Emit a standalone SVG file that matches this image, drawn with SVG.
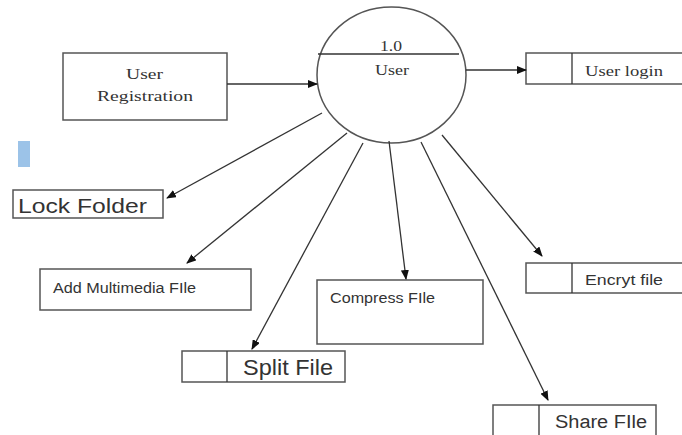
<svg xmlns="http://www.w3.org/2000/svg" width="682" height="435" viewBox="0 0 682 435">
<defs>
<marker id="ah" markerWidth="10" markerHeight="8" refX="9" refY="4" orient="auto" markerUnits="userSpaceOnUse">
<path d="M0,0 L10,4 L0,8 Z" fill="#111"/>
</marker>
<style>
.box{fill:#fff;stroke:#555;stroke-width:1.5}
.ln{stroke:#333;stroke-width:1.3;fill:none}
.conn{stroke:#333;stroke-width:1.3;fill:none;marker-end:url(#ah)}
.serif{font-family:"Liberation Serif","Times New Roman",serif;fill:#333}
.sans{font-family:"Liberation Sans",Arial,sans-serif;fill:#333}
</style>
</defs>
<rect width="682" height="435" fill="#fff"/>
<rect x="18" y="141" width="12" height="26" fill="#9cc3e8"/>
<g id="process-user">
<ellipse cx="391.5" cy="75" rx="74.5" ry="68" fill="#fff" stroke="#555" stroke-width="1.5"/>
<line class="ln" x1="318" y1="54" x2="459" y2="54"/>
<text class="serif" x="380" y="51" font-size="15" textLength="22" lengthAdjust="spacingAndGlyphs">1.0</text>
<text class="serif" x="375" y="75" font-size="15" textLength="34" lengthAdjust="spacingAndGlyphs">User</text>
</g>
<g id="user-registration">
<rect class="box" x="63" y="53" width="164" height="67"/>
<text class="serif" x="126" y="79" font-size="15" textLength="37" lengthAdjust="spacingAndGlyphs">User</text>
<text class="serif" x="97" y="101" font-size="15" textLength="96" lengthAdjust="spacingAndGlyphs">Registration</text>
</g>
<g id="user-login">
<rect class="box" x="526" y="53" width="160" height="31"/>
<line class="ln" x1="572" y1="53" x2="572" y2="84"/>
<text class="serif" x="585" y="76" font-size="15" textLength="78" lengthAdjust="spacingAndGlyphs">User login</text>
</g>
<g id="lock-folder">
<rect class="box" x="13" y="190" width="150" height="28"/>
<text class="sans" x="18" y="213" font-size="21" textLength="129" lengthAdjust="spacingAndGlyphs">Lock Folder</text>
</g>
<g id="add-multimedia">
<rect class="box" x="40" y="269" width="211" height="41"/>
<text class="sans" x="53" y="293" font-size="14" textLength="143" lengthAdjust="spacingAndGlyphs">Add Multimedia FIle</text>
</g>
<g id="compress-file">
<rect class="box" x="317" y="280" width="166" height="64"/>
<text class="sans" x="330" y="303" font-size="14" textLength="105" lengthAdjust="spacingAndGlyphs">Compress FIle</text>
</g>
<g id="encrypt-file">
<rect class="box" x="526" y="263" width="160" height="30"/>
<line class="ln" x1="572" y1="263" x2="572" y2="293"/>
<text class="sans" x="585" y="285" font-size="14" textLength="78" lengthAdjust="spacingAndGlyphs">Encryt file</text>
</g>
<g id="split-file">
<rect class="box" x="182" y="351" width="163" height="31"/>
<line class="ln" x1="227" y1="351" x2="227" y2="382"/>
<text class="sans" x="243" y="375" font-size="22" textLength="90" lengthAdjust="spacingAndGlyphs">Split File</text>
</g>
<g id="share-file">
<rect class="box" x="493" y="405" width="163" height="34"/>
<line class="ln" x1="539" y1="405" x2="539" y2="439"/>
<text class="sans" x="555" y="428" font-size="18" textLength="92" lengthAdjust="spacingAndGlyphs">Share FIle</text>
</g>
<g id="connectors">
<line class="conn" x1="227" y1="84" x2="317" y2="84"/>
<line class="conn" x1="466" y1="70" x2="526" y2="70"/>
<line class="conn" x1="322" y1="113" x2="167" y2="198"/>
<line class="conn" x1="347" y1="133" x2="187" y2="263"/>
<line class="conn" x1="363" y1="143" x2="252" y2="349"/>
<line class="conn" x1="389" y1="141" x2="406" y2="279"/>
<line class="conn" x1="421" y1="142" x2="548" y2="400"/>
<line class="conn" x1="442" y1="135" x2="542" y2="256"/>
</g>
</svg>
